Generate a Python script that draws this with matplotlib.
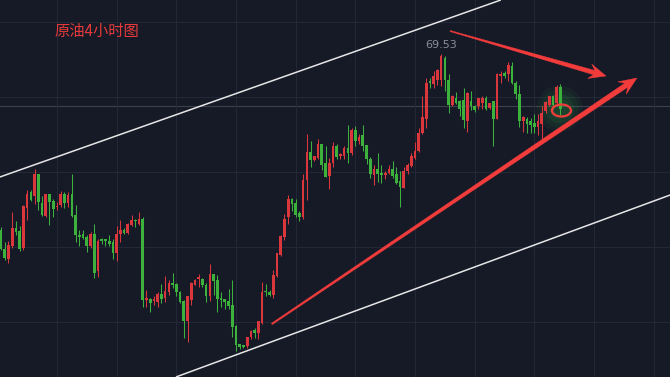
import matplotlib
matplotlib.use('Agg')
import matplotlib.pyplot as plt
from matplotlib.patches import Ellipse, Polygon
import numpy as np

plt.rcParams['font.family'] = ['Noto Sans CJK SC', 'DejaVu Sans']

# 4小时K线数据 (开, 高, 低, 收)
opens = [66.01, 65.64, 65.43, 65.69, 66.04, 65.98, 65.66, 66.46, 66.76, 66.70,
         67.13, 66.56, 66.29, 66.72, 66.59, 66.47, 66.51, 66.74, 66.56, 66.72,
         66.31, 65.91, 65.92, 65.86, 65.68, 65.92, 65.18, 65.83, 65.83, 65.80,
         65.76, 65.56, 65.93, 66.02, 65.96, 66.11, 66.21, 66.14, 66.23, 64.61,
         64.64, 64.60, 64.58, 64.74, 64.66, 64.76, 64.96, 64.93, 64.76, 64.59,
         64.19, 64.61, 64.92, 65.03, 65.03, 64.92, 64.70, 65.12, 65.01, 64.66,
         64.63, 64.59, 64.51, 64.09, 63.72, 63.70, 63.69, 63.88, 64.01, 63.96,
         64.16, 64.79, 64.76, 64.71, 65.10, 65.51, 65.88, 66.26, 66.64, 66.56,
         66.36, 66.26, 67.01, 67.56, 67.41, 67.46, 67.73, 67.34, 67.10, 67.36,
         67.68, 67.50, 67.50, 67.64, 67.56, 68.01, 67.79, 67.90, 67.71, 67.44,
         67.11, 67.23, 67.14, 67.11, 67.16, 67.23, 67.13, 66.98, 66.86, 67.18,
         67.29, 67.46, 67.60, 67.96, 68.23, 68.99, 68.94, 69.02, 69.01, 69.46,
         69.01, 68.51, 68.66, 68.59, 68.61, 68.20, 68.59, 68.49, 68.50, 68.54,
         68.66, 68.46, 68.58, 68.24, 69.10, 69.16, 69.12, 69.30, 68.94, 68.74,
         68.18, 68.24, 68.19, 68.16, 68.08, 68.14, 68.39, 68.51, 68.68, 68.54,
         68.88]
highs = [66.08, 65.78, 65.79, 66.38, 66.18, 66.09, 66.51, 66.82, 66.81, 67.23,
         67.14, 66.68, 66.74, 66.73, 66.63, 66.58, 66.79, 66.76, 66.76, 67.13,
         66.51, 66.01, 66.02, 65.90, 65.98, 66.12, 65.83, 65.86, 65.84, 65.92,
         65.83, 66.09, 66.22, 66.04, 66.16, 66.31, 66.24, 66.38, 66.28, 64.81,
         64.66, 64.70, 64.78, 64.93, 65.10, 65.01, 65.15, 64.96, 64.79, 64.61,
         64.68, 64.98, 65.03, 65.12, 65.04, 64.96, 65.34, 65.14, 65.11, 64.76,
         64.64, 64.84, 65.01, 64.11, 63.73, 63.71, 63.88, 64.01, 64.04, 64.19,
         64.98, 64.93, 64.81, 65.21, 65.56, 65.91, 66.33, 66.71, 66.66, 66.63,
         66.39, 67.14, 67.93, 67.79, 67.50, 67.83, 67.74, 67.69, 67.46, 67.78,
         67.73, 67.55, 67.68, 68.11, 68.04, 68.09, 67.93, 68.11, 67.72, 67.48,
         67.31, 67.56, 67.31, 67.18, 67.31, 67.39, 67.26, 67.18, 67.28, 67.36,
         67.54, 67.76, 68.06, 68.70, 69.04, 69.04, 69.18, 69.24, 69.53, 69.49,
         69.14, 68.71, 68.76, 68.61, 68.86, 68.78, 68.79, 68.51, 68.66, 68.70,
         68.70, 68.56, 68.58, 69.16, 69.18, 69.19, 69.38, 69.38, 69.00, 68.91,
         68.30, 68.28, 68.25, 68.34, 68.34, 68.50, 68.60, 68.70, 68.71, 68.92,
         68.94]
lows = [65.61, 65.41, 65.36, 65.66, 65.90, 65.60, 65.61, 66.21, 66.59, 66.53,
        66.42, 66.29, 66.26, 66.11, 66.26, 66.41, 66.48, 66.46, 66.48, 66.28,
        65.76, 65.70, 65.83, 65.58, 65.66, 65.06, 65.08, 65.74, 65.68, 65.70,
        65.43, 65.39, 65.78, 65.94, 65.93, 66.10, 66.08, 66.11, 64.48, 64.48,
        64.38, 64.51, 64.48, 64.54, 64.58, 64.72, 64.86, 64.70, 64.56, 63.86,
        63.78, 64.52, 64.90, 64.88, 64.88, 64.58, 64.60, 64.71, 64.38, 64.48,
        64.44, 64.43, 63.88, 63.60, 63.64, 63.66, 63.66, 63.83, 63.86, 63.83,
        64.14, 64.68, 64.69, 64.66, 65.08, 65.49, 65.81, 66.14, 66.39, 66.28,
        66.18, 66.23, 66.61, 67.26, 67.39, 67.43, 67.21, 67.08, 66.84, 67.26,
        67.44, 67.44, 67.44, 67.36, 67.51, 67.68, 67.74, 67.59, 67.34, 67.04,
        66.91, 66.98, 66.96, 67.03, 67.14, 67.04, 66.93, 66.48, 66.86, 67.14,
        67.28, 67.44, 67.58, 67.94, 68.06, 68.86, 68.86, 68.91, 68.89, 68.80,
        68.36, 68.48, 68.53, 68.30, 68.06, 67.98, 68.41, 68.37, 68.44, 68.44,
        68.42, 68.44, 67.70, 68.24, 68.96, 69.06, 68.99, 68.94, 68.64, 68.08,
        67.98, 67.96, 67.95, 67.96, 67.91, 67.81, 68.35, 68.49, 68.44, 68.50,
        68.31]
closes = [65.64, 65.46, 65.71, 66.04, 65.98, 65.63, 66.48, 66.74, 66.61, 67.14,
          66.58, 66.31, 66.72, 66.58, 66.43, 66.49, 66.74, 66.56, 66.72, 66.30,
          65.90, 65.88, 65.86, 65.68, 65.92, 65.16, 65.78, 65.80, 65.80, 65.74,
          65.56, 65.93, 66.02, 65.96, 66.12, 66.21, 66.18, 66.23, 64.61, 64.64,
          64.56, 64.62, 64.74, 64.63, 64.79, 64.94, 64.91, 64.76, 64.58, 64.20,
          64.68, 64.96, 65.01, 65.08, 64.91, 64.70, 65.12, 64.99, 64.64, 64.61,
          64.58, 64.50, 64.08, 63.71, 63.68, 63.68, 63.86, 63.99, 63.96, 64.18,
          64.76, 64.76, 64.72, 65.11, 65.54, 65.89, 66.24, 66.63, 66.53, 66.32,
          66.28, 67.01, 67.56, 67.41, 67.48, 67.74, 67.31, 67.08, 67.36, 67.68,
          67.48, 67.53, 67.66, 67.54, 68.01, 67.79, 67.88, 67.70, 67.44, 67.14,
          67.23, 67.13, 67.11, 67.16, 67.22, 67.09, 66.96, 66.88, 67.19, 67.31,
          67.49, 67.60, 67.96, 68.26, 68.96, 68.96, 69.09, 69.21, 69.48, 69.01,
          68.51, 68.69, 68.56, 68.44, 68.21, 68.75, 68.48, 68.41, 68.64, 68.66,
          68.44, 68.54, 68.24, 69.12, 69.14, 69.10, 69.30, 68.96, 68.74, 68.18,
          68.26, 68.14, 68.11, 68.08, 68.18, 68.36, 68.58, 68.68, 68.51, 68.88,
          68.44]

title_text = '原油4小时图'
peak_label = '69.53'

# 通道线 (K线序号, 价格)
upper_channel = [(-0.3, 67.07), (134.0, 70.61)]
lower_channel = [(46.9, 63.07), (179.4, 66.71)]
# 红色箭头 起点/终点
arrow_down = [(120.4, 69.99), (162.2, 69.09)]
arrow_up = [(72.6, 64.13), (170.5, 69.05)]

BG = '#161a27'
RED = '#d9373b'
GREEN = '#3cb23c'
ARROW_RED = '#f23c3c'


def draw_arrow(ax, start, end, w0, w1, head_len, head_w, color):
    # 在像素空间画一个尾细头粗的箭头, 再转回数据坐标
    p0 = ax.transData.transform(start)
    p1 = ax.transData.transform(end)
    d = p1 - p0
    u = d / np.hypot(*d)
    n = np.array([-u[1], u[0]])
    neck = p1 - u * head_len * 0.72
    wing = p1 - u * head_len
    pts = [p0 + n * w0 / 2, neck + n * w1 / 2, wing + n * head_w / 2, p1,
           wing - n * head_w / 2, neck - n * w1 / 2, p0 - n * w0 / 2]
    pts = ax.transData.inverted().transform(np.array(pts))
    ax.add_patch(Polygon(pts, closed=True, facecolor=color, edgecolor=color,
                         lw=0.3, zorder=6))


fig = plt.figure(figsize=(6.7, 3.77), dpi=100, facecolor=BG)
ax = fig.add_axes([0, 0, 1, 1])
ax.set_facecolor(BG)

n = len(opens)
idx = np.arange(n)
o = np.array(opens)
c = np.array(closes)
h = np.array(highs)
l = np.array(lows)
up = c >= o
colors = np.where(up, RED, GREEN)

ax.set_xlim(-0.27, 179.36)
ax.set_ylim(63.07, 70.61)

# 网格
ax.set_xticks(np.arange(15, 180, 16))
ax.set_yticks([64.17, 65.67, 67.17, 68.67, 70.17])
ax.grid(True, color='#232836', lw=0.8)
ax.tick_params(length=0, labelbottom=False, labelleft=False)
for s in ax.spines.values():
    s.set_visible(False)

# 十字光标横线
ax.axhline(68.49, color='#3c404c', lw=0.8, zorder=1)

# K线
ax.vlines(idx, l, h, colors=colors, lw=0.75, zorder=3)
body_bottom = np.minimum(o, c)
body_h = np.maximum(np.abs(c - o), 0.025)
ax.bar(idx, body_h, bottom=body_bottom, width=0.72, color=colors,
       linewidth=0, zorder=4)

# 通道线
for line in (upper_channel, lower_channel):
    xs, ys = zip(*line)
    ax.plot(xs, ys, color='#e6e6e6', lw=1.1, zorder=5, solid_capstyle='butt')

# 最高价标签
peak_i = int(np.argmax(h))
ax.annotate(peak_label, xy=(peak_i, h[peak_i]), xytext=(0, 3),
            textcoords='offset points', ha='center', va='bottom',
            fontsize=8, color='#8a8e98', family='DejaVu Sans')

# 末端绿色光晕和红圈
last = n - 1
for s, a in [(1100, 0.05), (750, 0.06), (450, 0.07), (220, 0.08)]:
    ax.scatter([last - 0.5], [68.45], s=s, color='#35d14a', alpha=a,
               linewidths=0, zorder=2)
ax.add_patch(Ellipse((last + 0.27, 68.40), 5.1, 0.24, fill=False,
                     edgecolor=ARROW_RED, lw=1.6, zorder=7))

# 红色箭头
draw_arrow(ax, arrow_down[0], arrow_down[1], 1.0, 4.5, 17, 15, ARROW_RED)
draw_arrow(ax, arrow_up[0], arrow_up[1], 1.5, 5.0, 18, 15, ARROW_RED)

fig.text(54 / 670, 1 - 31 / 377, title_text, color='#e63a3a', fontsize=11,
         ha='left', va='center')

plt.savefig('out.png', dpi=100, facecolor=BG)
